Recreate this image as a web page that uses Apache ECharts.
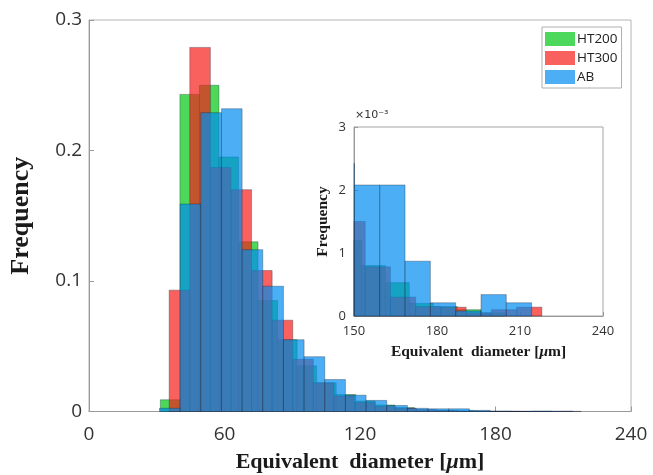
<!DOCTYPE html>
<html><head><meta charset="utf-8">
<script src="https://cdn.jsdelivr.net/npm/echarts@6/dist/echarts.min.js"></script>
<style>html,body{margin:0;padding:0;background:#fff}#c{width:653px;height:475px}</style>
</head><body><div id="c"></div>
<script>
// ---- data (histogram bin edges in µm and relative frequencies) ----
const seriesNames = ['HT200', 'HT300', 'AB'];

const edgesHT200 = [31.6, 40.25, 48.9, 57.55, 66.2, 74.85, 83.5, 92.15, 100.8, 109.45, 118.1, 126.75, 135.4, 144.05, 152.7, 161.35, 170.0, 178.65, 187.3, 195.95, 204.6];
const freqHT200  = [0.009, 0.243, 0.250, 0.195, 0.130, 0.085, 0.055, 0.035, 0.022, 0.013, 0.008, 0.005, 0.003, 0.0012, 0.0008, 0.00053, 0.0002, 0.00015, 0.0001, 0.00005];

const edgesHT300 = [35.5, 44.62, 53.74, 62.86, 71.98, 81.1, 90.22, 99.34, 108.46, 117.58, 126.7, 135.82, 144.94, 154.06, 163.18, 172.3, 181.42, 190.54, 199.66, 208.78, 217.9];
const freqHT300  = [0.093, 0.279, 0.187, 0.170, 0.108, 0.070, 0.040, 0.022, 0.012, 0.007, 0.004, 0.0025, 0.0015, 0.00078, 0.0003, 0.00015, 0.00014, 0.00005, 0.0001, 0.00014];

const edgesAB = [31.2, 40.35, 49.5, 58.65, 67.8, 76.95, 86.1, 95.25, 104.4, 113.55, 122.7, 131.85, 141.0, 150.15, 159.3, 168.45, 177.6, 186.75, 195.9, 205.05, 214.2];
const freqAB  = [0.0025, 0.159, 0.229, 0.232, 0.124, 0.096, 0.055, 0.042, 0.0245, 0.0125, 0.0085, 0.0046, 0.00242, 0.00208, 0.00208, 0.00087, 0.00021, 0.00008, 0.00034, 0.00021];

const mainXTicks = [0, 60, 120, 180, 240];
const mainYTicks = [0, 0.1, 0.2, 0.3];
const insetXTicks = [150, 180, 210, 240];
const insetYTicks = [0, 0.001, 0.002, 0.003];

// ---- styling ----
const fills = ['rgba(0,200,20,0.7)', 'rgba(245,30,25,0.7)', 'rgba(0,140,240,0.7)'];
const edgeStroke = 'rgba(20,30,50,0.45)';

function toBins(edges, freq) { return freq.map((f, i) => [edges[i], edges[i + 1], f]); }
const binSets = [toBins(edgesHT200, freqHT200), toBins(edgesHT300, freqHT300), toBins(edgesAB, freqAB)];

function makeRender(fill) {
  return function (params, api) {
    const x0 = api.value(0), x1 = api.value(1), y = api.value(2);
    const p0 = api.coord([x0, 0]);
    const p1 = api.coord([x1, y]);
    const cs = params.coordSys;
    const rect = echarts.graphic.clipRectByRect(
      { x: p0[0], y: p1[1], width: p1[0] - p0[0], height: p0[1] - p1[1] },
      { x: cs.x, y: cs.y, width: cs.width, height: cs.height }
    );
    if (!rect) return;
    return { type: 'rect', shape: rect, style: { fill: fill, stroke: edgeStroke, lineWidth: 0.7 } };
  };
}

const series = [];
[0, 1].forEach(g => {
  seriesNames.forEach((n, i) => {
    series.push({
      type: 'custom', name: n, xAxisIndex: g, yAxisIndex: g,
      renderItem: makeRender(fills[i]),
      itemStyle: { color: fills[i] },
      encode: { x: [0, 1], y: 2 },
      data: binSets[i],
      z: g === 0 ? 2 : 12,
      silent: true, animation: false
    });
  });
});

const serif = 'Liberation Serif';
const sans = 'Open Sans';
const axisGrey = '#9a9a9a';
function titleRich(size) {
  return {
    b: { fontFamily: serif, fontWeight: 'bold', fontSize: size, color: '#1a1a1a' },
    i: { fontFamily: serif, fontWeight: 'bold', fontStyle: 'italic', fontSize: size, color: '#1a1a1a' }
  };
}

const chart = echarts.init(document.getElementById('c'), null, { renderer: 'canvas' });
chart.setOption({
  animation: false,
  backgroundColor: '#fff',
  legend: {
    data: seriesNames, orient: 'vertical', left: 542, top: 27,
    icon: 'rect', itemWidth: 30, itemHeight: 14, itemGap: 5,
    padding: [5, 4, 4, 3], borderColor: '#b0b0b0', borderWidth: 1,
    backgroundColor: '#fff', selectedMode: false, z: 20,
    textStyle: { fontFamily: sans, fontSize: 13.5, color: '#222', padding: [0, 0, 0, -3] }
  },
  grid: [
    { left: 89, top: 20, width: 542, height: 391.5, show: true, borderColor: '#b5b5b5', borderWidth: 1, backgroundColor: 'transparent', containLabel: false, outerBoundsMode: 'none' },
    { left: 354, top: 127, width: 249, height: 189, show: true, borderColor: '#a5a5a5', borderWidth: 1, backgroundColor: '#fff', z: 10, containLabel: false, outerBoundsMode: 'none' }
  ],
  xAxis: [
    {
      type: 'value', gridIndex: 0, min: mainXTicks[0], max: mainXTicks[mainXTicks.length - 1], interval: mainXTicks[1] - mainXTicks[0],
      axisLine: { show: true, lineStyle: { color: axisGrey } },
      axisTick: { show: true, inside: true, length: 5, lineStyle: { color: axisGrey } },
      axisLabel: { fontFamily: sans, fontSize: 19, color: '#333', margin: 14 },
      splitLine: { show: false },
      name: '{b|Equivalent  diameter [}{i|μ}{b|m]}', nameLocation: 'middle', nameGap: 40,
      nameTextStyle: { rich: titleRich(22) }
    },
    {
      type: 'value', gridIndex: 1, min: insetXTicks[0], max: insetXTicks[insetXTicks.length - 1], interval: insetXTicks[1] - insetXTicks[0], z: 11,
      axisLine: { show: true, lineStyle: { color: axisGrey } },
      axisTick: { show: true, inside: true, length: 4, lineStyle: { color: axisGrey } },
      axisLabel: { fontFamily: sans, fontSize: 13, color: '#333', margin: 9 },
      splitLine: { show: false },
      name: '{b|Equivalent  diameter [}{i|μ}{b|m]}', nameLocation: 'middle', nameGap: 28,
      nameTextStyle: { rich: titleRich(15.5) }
    }
  ],
  yAxis: [
    {
      type: 'value', gridIndex: 0, min: mainYTicks[0], max: mainYTicks[mainYTicks.length - 1], interval: 0.1,
      axisLine: { show: true, lineStyle: { color: axisGrey } },
      axisTick: { show: true, inside: true, length: 5, lineStyle: { color: axisGrey } },
      axisLabel: { fontFamily: sans, fontSize: 19, color: '#333', margin: 7 },
      splitLine: { show: false },
      name: 'Frequency', nameLocation: 'middle', nameGap: 55, nameRotate: 90,
      nameTextStyle: { fontFamily: serif, fontWeight: 'bold', fontSize: 26, color: '#1a1a1a' }
    },
    {
      type: 'value', gridIndex: 1, min: insetYTicks[0], max: insetYTicks[insetYTicks.length - 1], interval: 0.001, z: 11,
      axisLine: { show: true, lineStyle: { color: axisGrey } },
      axisTick: { show: true, inside: true, length: 4, lineStyle: { color: axisGrey } },
      axisLabel: { fontFamily: sans, fontSize: 13, color: '#333', margin: 8, formatter: v => String(Math.round(v * 1000)) },
      splitLine: { show: false },
      name: 'Frequency', nameLocation: 'middle', nameGap: 23, nameRotate: 90,
      nameTextStyle: { fontFamily: serif, fontWeight: 'bold', fontSize: 15.5, color: '#1a1a1a' }
    }
  ],
  graphic: [
    { type: 'text', left: 355, top: 110, z: 30, style: { text: '×10⁻³', font: '11px "DejaVu Sans"', fill: '#333' } }
  ],
  series: series
});
</script>
</body></html>
